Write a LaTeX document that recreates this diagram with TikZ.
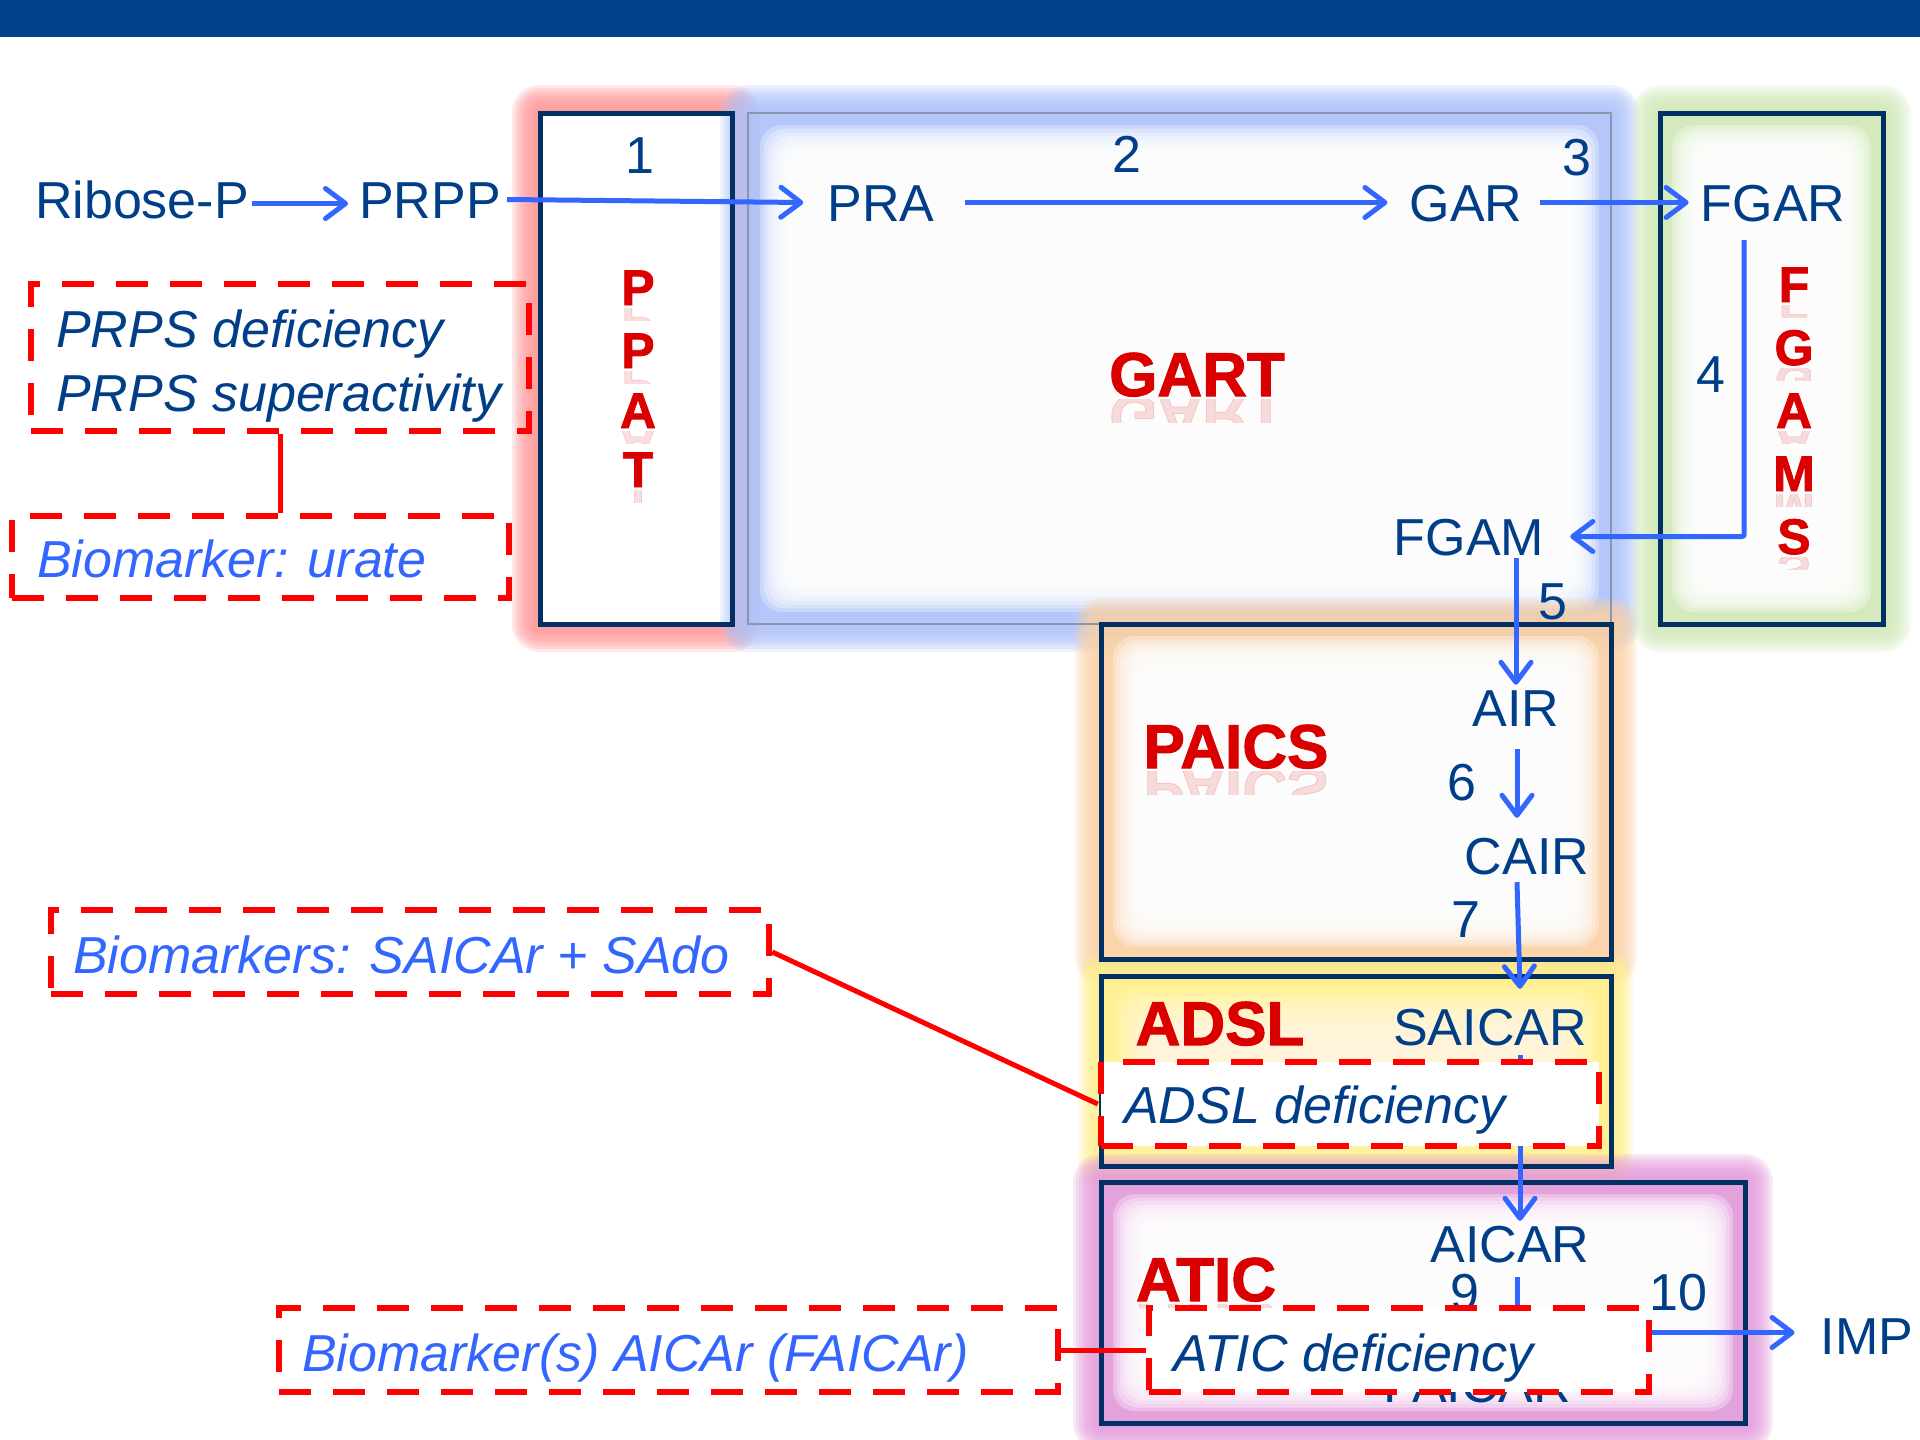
\documentclass[tikz,border=0pt]{standalone}
\usepackage{fontspec}
\setmainfont{Liberation Sans}
\newfontfamily\enzfont[FakeBold=1.6]{Liberation Sans}
\usetikzlibrary{arrows.meta,calc}
\definecolor{textblue}{RGB}{0,62,136}
\definecolor{arrowblue}{RGB}{51,102,255}
\definecolor{navy}{RGB}{0,48,100}
\definecolor{enzred}{RGB}{218,0,0}
\definecolor{dashred}{RGB}{255,0,0}
\definecolor{bandblue}{RGB}{0,66,138}
\definecolor{gartgray}{RGB}{140,150,170}
\definecolor{gred}{RGB}{255,150,150}
\definecolor{gblue}{RGB}{175,195,250}
\definecolor{ggreen}{RGB}{210,234,185}
\definecolor{gorange}{RGB}{252,210,165}
\definecolor{gyellow}{RGB}{255,240,140}
\definecolor{gpurple}{RGB}{228,155,220}
\newcommand\fsz[1]{\fontsize{#1}{#1}\selectfont}
% soft outer glow
\newcommand\glowrect[6]{%
  \foreach \k in {1,...,10}{%
    \pgfmathsetmacro\glwd{#6*\k/10}%
    \fill[#1, opacity=0.21, rounded corners=\glwd pt] ({#2-\glwd},{#3-\glwd}) rectangle ({#4+\glwd},{#5+\glwd});
  }}
% soft white interior
\newcommand\innerwhite[7]{%
  \foreach \k in {0,...,11}{%
    \pgfmathsetmacro\glwd{#5+#6*\k/11}%
    \fill[white, opacity=#7, rounded corners=22pt] ({#1+\glwd},{#2+\glwd}) rectangle ({#3-\glwd},{#4-\glwd});
  }}
% faint reflection of an enzyme label
\newcommand\reflectlbl[5]{%
  \begin{scope}[shift={(#1,#2)}]
    \clip (-250,3) rectangle (250,{#5*#3});
    \node[transform shape, yscale=-1, anchor=base, inner sep=0pt, text=enzred, text opacity=0.13, font=\fsz{#3}\enzfont\bfseries] at (0,0) {#4};
  \end{scope}}
\tikzset{
  lbl/.style={text=textblue, font=\fsz{52}, inner sep=0pt, anchor=base, text height=37pt, text depth=0pt},
  note/.style={text=textblue, font=\fsz{52}\itshape, inner sep=0pt, anchor=base west},
  bio/.style={text=arrowblue, font=\fsz{52}\itshape, inner sep=0pt, anchor=base west},
  enz/.style={text=enzred, font=\fsz{62}\enzfont\bfseries, inner sep=0pt, anchor=base},
  enzl/.style={text=enzred, font=\fsz{50}\enzfont\bfseries, inner sep=0pt, anchor=base},
  arr/.style={draw=arrowblue, line width=5pt, -{Straight Barb[length=20pt,width=30pt,round]}},
  ebox/.style={draw=navy, line width=5pt, inner sep=0pt},
  dbox/.style={draw=dashred, line width=6.5pt, dash pattern=on 32pt off 22pt, inner sep=0pt},
  redline/.style={draw=dashred, line width=5pt},
}
\begin{document}
\begin{tikzpicture}[x=1pt,y=-1pt]
\useasboundingbox (0,0) rectangle (1920,1440);
\fill[white] (0,0) rectangle (1920,1440);
\fill[bandblue] (0,0) rectangle (1920,37);

% ---- glows ----
\glowrect{gred}{540}{113}{732}{624}{28}
\fill[white] (540,113) rectangle (732,624);
\glowrect{gblue}{748}{113}{1611}{624}{28}
\innerwhite{748}{113}{1611}{624}{12}{40}{0.3}
\glowrect{ggreen}{1660}{113}{1883}{624}{28}
\innerwhite{1660}{113}{1883}{624}{12}{38}{0.3}
\glowrect{gorange}{1101}{624}{1611}{959}{26}
\innerwhite{1101}{624}{1611}{959}{12}{38}{0.3}
\glowrect{gyellow}{1101}{976}{1611}{1166}{22}
\innerwhite{1101}{976}{1611}{1166}{12}{40}{0.09}
\glowrect{gpurple}{1101}{1182}{1745}{1423}{28}
\innerwhite{1101}{1182}{1745}{1423}{12}{38}{0.3}

% ---- enzyme boxes ----
\node[ebox, minimum width=192pt, minimum height=511pt] (ppat) at (636,368.5) {};
\node[draw=gartgray, line width=2.5pt, inner sep=0pt, minimum width=863pt, minimum height=511pt] (gart) at (1179.5,368.5) {};
\node[ebox, minimum width=223pt, minimum height=511pt] (fgams) at (1771.5,368.5) {};
\node[ebox, minimum width=510pt, minimum height=335pt] (paics) at (1356,791.5) {};
\node[ebox, minimum width=510pt, minimum height=190pt] (adsl) at (1356,1071) {};
\node[ebox, minimum width=644pt, minimum height=241pt] (atic) at (1423,1302.5) {};

% ---- enzyme labels ----
\reflectlbl{638}{305}{50}{P}{0.3}
\reflectlbl{638}{368}{50}{P}{0.3}
\reflectlbl{638}{428}{50}{A}{0.3}
\reflectlbl{638}{487}{50}{T}{0.3}
\node[enzl] (pp1) at (638,305) {P};
\node[enzl] (pp2) at (638,368) {P};
\node[enzl] (pp3) at (638,428) {A};
\node[enzl] (pp4) at (638,487) {T};
\reflectlbl{1794}{302}{50}{F}{0.3}
\reflectlbl{1794}{365}{50}{G}{0.3}
\reflectlbl{1794}{428}{50}{A}{0.3}
\reflectlbl{1794}{491}{50}{M}{0.3}
\reflectlbl{1794}{554}{50}{S}{0.3}
\node[enzl] (fg1) at (1794,302) {F};
\node[enzl] (fg2) at (1794,365) {G};
\node[enzl] (fg3) at (1794,428) {A};
\node[enzl] (fg4) at (1794,491) {M};
\node[enzl] (fg5) at (1794,554) {S};
\reflectlbl{1197}{396}{62}{GART}{0.42}
\node[enz] (gartlbl) at (1197,396) {GART};
\reflectlbl{1236}{768}{62}{PAICS}{0.42}
\node[enz] (paicslbl) at (1236,768) {PAICS};
\node[enz] (adsllbl) at (1220,1045) {ADSL};
\reflectlbl{1206}{1301}{62}{ATIC}{0.1}
\node[enz] (aticlbl) at (1206,1301) {ATIC};

% ---- metabolites and step numbers ----
\node[lbl] (n1) at (640,173) {1};
\node[lbl] (n2) at (1127,172) {2};
\node[lbl] (n3) at (1577,175) {3};
\node[lbl] (ribose) at (142,218) {Ribose-P};
\node[lbl] (prpp) at (430,218) {PRPP};
\node[lbl] (pra) at (881,221) {PRA};
\node[lbl] (gar) at (1466,221) {GAR};
\node[lbl] (fgar) at (1773,221) {FGAR};
\node[lbl] (fgam) at (1469,555) {FGAM};
\node[lbl] (n4) at (1711,392) {4};
\node[lbl] (n5) at (1553,619) {5};
\node[lbl] (air) at (1516,726) {AIR};
\node[lbl] (n6) at (1462,800) {6};
\node[lbl] (cair) at (1527,874) {CAIR};
\node[lbl] (n7) at (1466,937) {7};
\node[lbl] (saicar) at (1490,1045) {SAICAR};
\node[lbl] (aicar) at (1510,1262) {AICAR};
\node[lbl] (n9) at (1465,1310) {9};
\node[lbl] (n10) at (1678,1310) {10};
\node[lbl] (imp) at (1867,1354) {IMP};
\node[lbl] (faicar) at (1477,1402) {FAICAR};

% ---- pathway arrows ----
\draw[arr] ([xshift=3pt,yshift=-4pt]ribose.east) -- ([xshift=-11pt,yshift=-4pt]prpp.west);
\draw[arr] ([xshift=6pt]prpp.east) -- ([xshift=-24pt]pra.west);
\draw[arr] ([xshift=30pt]pra.east) -- ([xshift=-22pt]gar.west);
\draw[arr] ([xshift=17pt]gar.east) -- ([xshift=-12pt]fgar.west);
\draw[arr, rounded corners=2pt] ([xshift=-29pt,yshift=-19pt]fgar.south) |- ([xshift=26pt]fgam.east);
\draw[arr] ($(fgam.south -| air.south)+(0,3)$) -- ($(air.north)+(0,-4)$);
\draw[arr] ($(air.south)+(1,23)$) -- ($(air.south |- cair.north)+(1,-19)$);
\draw[arr] ($(air.south |- cair.south)+(1,8)$) -- ($(air.south |- saicar.north)+(4,-19)$);
\draw[arr] ($(aicar.north |- saicar.south)+(10,10)$) -- ($(aicar.north)+(10,-4)$);
\draw[arr] ($(aicar.south)+(7,15)$) -- ($(aicar.south |- faicar.north)+(7,-5)$);
\draw[arr] ($(faicar.east |- imp.west)+(0,-3)$) -- ($(imp.west)+(-26,-3)$);

% ---- disease / biomarker boxes ----
\node[dbox, minimum width=498pt, minimum height=147pt] (prpsbox) at (280,357.5) {};
\node[dbox, minimum width=497pt, minimum height=82pt] (uratebox) at (260.5,557) {};
\node[dbox, minimum width=718pt, minimum height=84pt] (saicarbox) at (410,952) {};
\node[dbox, fill=white, minimum width=498pt, minimum height=84pt] (adsldef) at (1350,1104) {};
\node[dbox, minimum width=779pt, minimum height=84pt] (aicarbox) at (668.5,1350) {};
\node[dbox, fill=white, minimum width=500pt, minimum height=84pt] (aticdef) at (1399,1350) {};

\draw[redline] (prpsbox.south) -- (prpsbox.south |- uratebox.north);
\draw[redline] (saicarbox.east) -- (adsldef.west);
\draw[redline] (aicarbox.east) -- (aticdef.west);

\node[note] (prps1) at (56,347) {PRPS deficiency};
\node[note] (prps2) at (56,411) {PRPS superactivity};
\node[bio] (urate) at (37,577) {Biomarker: urate};
\node[bio] (saicarbio) at (73,973) {Biomarkers: SAICAr + SAdo};
\node[note] (adsldeftxt) at (1124,1123) {ADSL deficiency};
\node[bio] (aicarbio) at (302,1371) {Biomarker(s) AICAr (FAICAr)};
\node[note] (aticdeftxt) at (1173,1371) {ATIC deficiency};
\end{tikzpicture}
\end{document}
